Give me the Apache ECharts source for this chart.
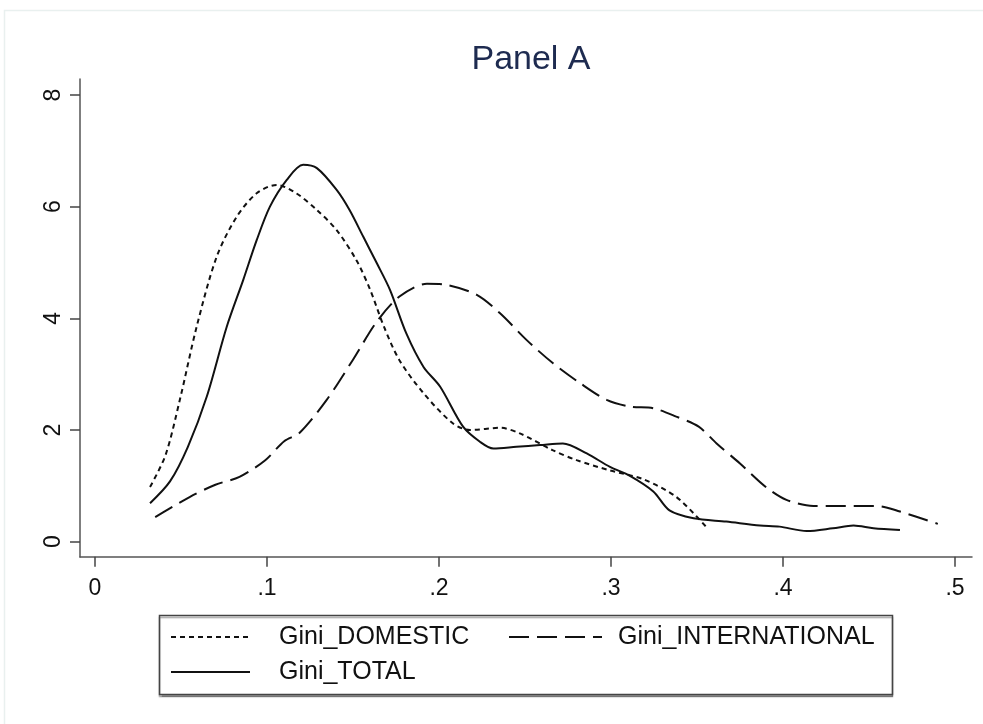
<!DOCTYPE html>
<html>
<head>
<meta charset="utf-8">
<script src="https://cdn.jsdelivr.net/npm/echarts@6/dist/echarts.min.js"></script>
<style>
html,body{margin:0;padding:0;background:#fff;}
#chart{width:983px;height:724px;}
</style>
</head>
<body>
<div id="chart"></div>
<script>
// Data (Gini value, kernel density)
const domesticX = [0.032,0.041,0.0494,0.0591,0.0707,0.0824,0.094,0.1056,0.117,0.129,0.1405,0.152,0.160,0.168,0.177,0.191,0.208,0.218,0.2355,0.247,0.266,0.280,0.299,0.3186,0.338,0.3558];
const domesticY = [0.98,1.55,2.55,3.85,5.1,5.82,6.24,6.39,6.24,5.94,5.58,5.04,4.51,3.85,3.25,2.66,2.12,2.0,2.04,1.94,1.64,1.46,1.28,1.12,0.80,0.25];

const internationalX = [0.035,0.055,0.07,0.084,0.099,0.11,0.119,0.1347,0.150,0.1638,0.177,0.193,0.2045,0.222,0.2355,0.251,0.2665,0.282,0.2975,0.311,0.3246,0.338,0.351,0.3614,0.375,0.390,0.402,0.4177,0.437,0.4545,0.468,0.490];
const internationalY = [0.44,0.80,1.02,1.16,1.46,1.80,1.95,2.54,3.26,3.94,4.39,4.62,4.60,4.42,4.09,3.61,3.19,2.84,2.54,2.42,2.39,2.24,2.06,1.76,1.40,0.98,0.75,0.64,0.64,0.64,0.54,0.32];

const totalX = [0.032,0.0436,0.054,0.065,0.0766,0.0862,0.094,0.1017,0.1115,0.121,0.129,0.1405,0.148,0.156,0.1638,0.1715,0.181,0.191,0.2006,0.214,0.2238,0.2316,0.245,0.2587,0.272,0.2859,0.2994,0.311,0.3246,0.334,0.348,0.367,0.3866,0.398,0.4138,0.429,0.441,0.4526,0.468];
const totalY = [0.69,1.08,1.70,2.60,3.85,4.69,5.40,6.00,6.48,6.75,6.69,6.30,5.94,5.46,4.99,4.51,3.73,3.13,2.78,2.06,1.79,1.67,1.70,1.73,1.76,1.58,1.34,1.18,0.90,0.56,0.42,0.36,0.29,0.27,0.19,0.24,0.29,0.24,0.21];

const xMin = 0, xMax = 0.5, xStep = 0.1;
const xTickLabels = ['0','.1','.2','.3','.4','.5'];
const yMin = 0, yMax = 8, yStep = 2;
const yTickLabels = ['0','2','4','6','8'];
const gridLines = [0,2,4,6];

const seriesNames = ['Gini_DOMESTIC','Gini_INTERNATIONAL','Gini_TOTAL'];

function pairs(xs, ys){ return xs.map((x,i)=>[x, ys[i]]); }

const chart = echarts.init(document.getElementById('chart'), null, {renderer:'canvas'});
const FONT = 'Liberation Sans, Arial, sans-serif';
const lineColor = '#111';
const axisColor = '#555';

const option = {
  animation:false,
  backgroundColor:'#fff',
  textStyle:{fontFamily:FONT},
  title:{
    text:'Panel A', left:526, top:38, textAlign:'center',
    textStyle:{fontFamily:FONT, fontSize:34, fontWeight:'normal', color:'#1e2b50'}
  },
  grid:[
    {left:95, right:28, top:95, bottom:182.3, containLabel:false},
    {left:80, right:11, top:79, bottom:167, containLabel:false}
  ],
  xAxis:[
    {
      gridIndex:0, type:'value', min:xMin, max:xMax, interval:xStep, offset:15,
      axisLine:{show:false, onZero:false},
      axisTick:{show:true, length:10, lineStyle:{color:'#444', width:1.5}},
      axisLabel:{show:true, margin:20, fontFamily:FONT, fontSize:23, color:'#111',
        formatter:function(v){ const i = Math.round((v - xMin)/xStep); return xTickLabels[i] || ''; }},
      splitLine:{show:false}
    },
    {
      gridIndex:1, type:'value', min:0, max:1,
      axisLine:{show:true, onZero:false, lineStyle:{color:axisColor, width:1.5}},
      axisTick:{show:false}, axisLabel:{show:false}, splitLine:{show:false}
    }
  ],
  yAxis:[
    {
      gridIndex:0, type:'value', min:yMin, max:yMax, interval:yStep, offset:15,
      axisLine:{show:false, onZero:false},
      axisTick:{show:true, length:10, lineStyle:{color:'#444', width:1.5}},
      axisLabel:{show:true, rotate:90, margin:15, fontFamily:FONT, fontSize:23, color:'#111',
        formatter:function(v){ const i = Math.round((v - yMin)/yStep); return yTickLabels[i] || ''; }},
      splitLine:{show:false}
    },
    {
      gridIndex:1, type:'value', min:0, max:1,
      axisLine:{show:true, onZero:false, lineStyle:{color:axisColor, width:1.5}},
      axisTick:{show:false}, axisLabel:{show:false}, splitLine:{show:false}
    }
  ],
  series:[
    {
      name:seriesNames[0], type:'line', xAxisIndex:0, yAxisIndex:0, data:pairs(domesticX, domesticY), smooth:0.3, symbol:'none',
      lineStyle:{color:lineColor, width:2, type:[5,4]}, z:3,
      markLine:{silent:true, symbol:'none', label:{show:false}, z:1,
        lineStyle:{color:'#e8f0f4', width:1.5, type:'solid'},
        data: gridLines.map(v=>[{xAxis:-0.00872, yAxis:v},{xAxis:0.5099, yAxis:v}])}
    },
    {
      name:seriesNames[1], type:'line', xAxisIndex:0, yAxisIndex:0, data:pairs(internationalX, internationalY), smooth:0.3, symbol:'none',
      lineStyle:{color:lineColor, width:2, type:[20,8]}, z:3
    },
    {
      name:seriesNames[2], type:'line', xAxisIndex:0, yAxisIndex:0, data:pairs(totalX, totalY), smooth:0.3, symbol:'none',
      lineStyle:{color:lineColor, width:2, type:'solid'}, z:3
    }
  ],
  graphic:[
    {type:'rect', shape:{x:4.5, y:10.5, width:990, height:720}, style:{fill:'none', stroke:'#e9f0ef', lineWidth:1.5}, silent:true},
    {type:'rect', shape:{x:159.5, y:615.5, width:733, height:79}, style:{fill:'#fff', stroke:'#444', lineWidth:1.5, shadowColor:'rgba(0,0,0,0.35)', shadowOffsetY:2, shadowOffsetX:0, shadowBlur:1}, silent:true},
    {type:'line', shape:{x1:171, y1:637, x2:250, y2:637}, style:{stroke:lineColor, lineWidth:2, lineDash:[5,4]}},
    {type:'text', style:{x:279, y:637, text:seriesNames[0], font:'25px '+FONT, fill:'#111', textVerticalAlign:'middle'}},
    {type:'line', shape:{x1:509, y1:637, x2:602, y2:637}, style:{stroke:lineColor, lineWidth:2, lineDash:[20,8]}},
    {type:'text', style:{x:618, y:637, text:seriesNames[1], font:'25px '+FONT, fill:'#111', textVerticalAlign:'middle'}},
    {type:'line', shape:{x1:171, y1:672, x2:250, y2:672}, style:{stroke:lineColor, lineWidth:2}},
    {type:'text', style:{x:279, y:672, text:seriesNames[2], font:'25px '+FONT, fill:'#111', textVerticalAlign:'middle'}}
  ]
};
chart.setOption(option);
</script>
</body>
</html>
